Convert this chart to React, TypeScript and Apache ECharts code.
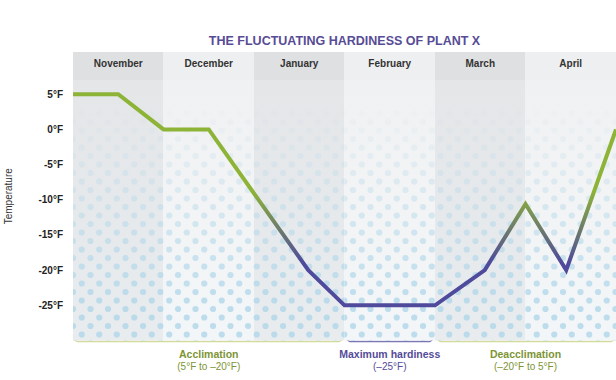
import React, { useEffect, useRef } from 'react';
import * as echarts from 'echarts';

// ---- data ----
const months = ['November', 'December', 'January', 'February', 'March', 'April'];
const pointX = [0, 0.5, 1.0, 1.5, 2.6, 3.0, 4.0, 4.55, 5.0, 5.45, 6.0];
const pointTemp = [5, 5, 0, 0, -20, -25, -25, -20, -10.6, -20, 0];
const yTickValues = [-25, -20, -15, -10, -5, 0, 5];
const phaseNames = ['Acclimation', 'Maximum hardiness', 'Deacclimation'];
const phaseRanges = ['(5°F to –20°F)', '(–25°F)', '(–20°F to 5°F)'];
const phaseStart = [0, 3, 4];
const phaseEnd = [3, 4, 6];
const phaseIsPeak = [false, true, false];
const titleText = 'THE FLUCTUATING HARDINESS OF PLANT X';

const FONT = '"Liberation Sans", Arial, Helvetica, sans-serif';
const GREEN = '#8db337';
const PURPLE = '#4f4a9b';
const TXT_GREEN = '#7d9435';
const TXT_PURPLE = '#544c98';

function makeTile(dark: boolean) {
  const c = document.createElement('canvas');
  c.width = 35;
  c.height = 350;
  const ctx = c.getContext('2d')!;
  ctx.fillStyle = dark ? '#dfe0e2' : '#eeeff0';
  ctx.fillRect(0, 0, 35, 80);
  const g = ctx.createLinearGradient(0, 80, 0, 340);
  g.addColorStop(0, dark ? '#e4e6e8' : '#f0f1f2');
  g.addColorStop(1, dark ? '#e8ecef' : '#f3f6f8');
  ctx.fillStyle = g;
  ctx.fillRect(0, 80, 35, 270);
  for (let row = 0; row < 60; row++) {
    const y = 3 + row * 8.5;
    if (y > 352) break;
    let a = (y - 105) / 200;
    if (a <= 0) continue;
    if (a > 1) a = 1;
    const off = row % 2 ? 8.75 : 0;
    for (let k = -1; k <= 2; k++) {
      const cx = 3 + off + k * 17.5;
      ctx.beginPath();
      ctx.arc(cx, y, 3.1, 0, Math.PI * 2);
      ctx.fillStyle = `rgba(175, 214, 233, ${(a * 0.8).toFixed(3)})`;
      ctx.fill();
    }
  }
  return c;
}

export default function App() {
  const ref = useRef<HTMLDivElement>(null);
  useEffect(() => {
    document.body.style.margin = '0';
    const chart = echarts.init(ref.current!, null, { renderer: 'svg' });
    const darkTile = makeTile(true);
    const lightTile = makeTile(false);
    const pat = (c: HTMLCanvasElement) => ({
      image: c,
      repeat: 'repeat',
      imageWidth: c.width,
      imageHeight: c.height,
    });

    const bands = months.map((m, i) => [
      { xAxis: i, yAxis: -30, itemStyle: { color: pat(i % 2 === 0 ? darkTile : lightTile) } },
      { xAxis: i + 1, yAxis: 11 },
    ]);

    chart.setOption({
      animation: false,
      grid: { left: 73, right: 0, top: 52, bottom: 39.5, containLabel: false, outerBoundsMode: 'none' },
      xAxis: [
        { type: 'value', min: 0, max: 6, show: false },
        {
          type: 'category',
          position: 'top',
          data: months,
          boundaryGap: true,
          z: 20,
          axisLine: { show: false },
          axisTick: { show: false },
          splitLine: { show: false },
          axisLabel: {
            inside: true,
            margin: 11,
            verticalAlign: 'middle',
            fontFamily: FONT,
            fontSize: 10,
            fontWeight: 'bold',
            color: '#333',
            interval: 0,
          },
        },
      ],
      yAxis: {
        type: 'value',
        min: -30,
        max: 11,
        interval: 5,
        axisLine: { show: false },
        axisTick: { show: false },
        splitLine: { show: false },
        axisLabel: {
          margin: 10,
          fontFamily: FONT,
          fontSize: 10,
          fontWeight: 'bold',
          color: '#222',
          formatter: (v: number) => (yTickValues.includes(v) ? `${v}°F` : ''),
        },
        name: 'Temperature',
        nameLocation: 'middle',
        nameRotate: 90,
        nameGap: 60,
        nameTextStyle: { fontFamily: FONT, fontSize: 10, color: '#333' },
      },
      series: [
        {
          type: 'line',
          xAxisIndex: 0,
          yAxisIndex: 0,
          data: pointX.map((x, i) => [x, pointTemp[i]]),
          symbol: 'none',
          z: 3,
          lineStyle: {
            width: 4,
            join: 'miter',
            color: new echarts.graphic.LinearGradient(0, 0, 0, 1, [
              { offset: 0, color: GREEN },
              { offset: 0.46, color: GREEN },
              { offset: 0.8, color: PURPLE },
              { offset: 1, color: PURPLE },
            ]),
          },
          markArea: {
            silent: true,
            label: { show: false },
            data: bands,
          },
        },
      ],
    });

    const toPx = (x: number, y: number) =>
      chart.convertToPixel({ xAxisIndex: 0, yAxisIndex: 0 }, [x, y]) as number[];
    const tl = toPx(0, 11);
    const br = toPx(6, -30);
    const cx = (tl[0] + br[0]) / 2;
    const yb = br[1] + 1;

    const graphics: any[] = [
      {
        type: 'text',
        x: cx,
        y: 41,
        style: {
          text: titleText,
          fill: '#574b96',
          font: `bold 12.5px ${FONT}`,
          align: 'center',
          verticalAlign: 'middle',
          textAlign: 'center',
          textVerticalAlign: 'middle',
        },
      },
    ];
    phaseNames.forEach((name, i) => {
      const x0 = toPx(phaseStart[i], -30)[0] + (i === 0 ? 0.5 : 1.5);
      const x1 = toPx(phaseEnd[i], -30)[0] - (i === 2 ? 1 : 1.5);
      const stroke = phaseIsPeak[i] ? '#7b76b4' : '#d2da9c';
      const txt = phaseIsPeak[i] ? TXT_PURPLE : TXT_GREEN;
      graphics.push({
        type: 'polyline',
        shape: {
          points: [
            [x0, yb - 6],
            [x0 + 0.6, yb - 2.2],
            [x0 + 3.5, yb],
            [x1 - 3.5, yb],
            [x1 - 0.6, yb - 2.2],
            [x1, yb - 6],
          ],
        },
        style: { stroke, lineWidth: 1.4, fill: null, lineJoin: 'round' },
      });
      const mx = (toPx(phaseStart[i], -30)[0] + toPx(phaseEnd[i], -30)[0]) / 2;
      graphics.push({
        type: 'text',
        x: mx,
        y: yb + 12,
        style: {
          text: name,
          fill: txt,
          font: `bold 10.5px ${FONT}`,
          align: 'center',
          verticalAlign: 'middle',
          textAlign: 'center',
          textVerticalAlign: 'middle',
        },
      });
      graphics.push({
        type: 'text',
        x: mx,
        y: yb + 25,
        style: {
          text: phaseRanges[i],
          fill: txt,
          font: `10px ${FONT}`,
          align: 'center',
          verticalAlign: 'middle',
          textAlign: 'center',
          textVerticalAlign: 'middle',
        },
      });
    });
    chart.setOption({ graphic: graphics });

    return () => chart.dispose();
  }, []);
  return <div ref={ref} style={{ width: 616, height: 380 }} />;
}
